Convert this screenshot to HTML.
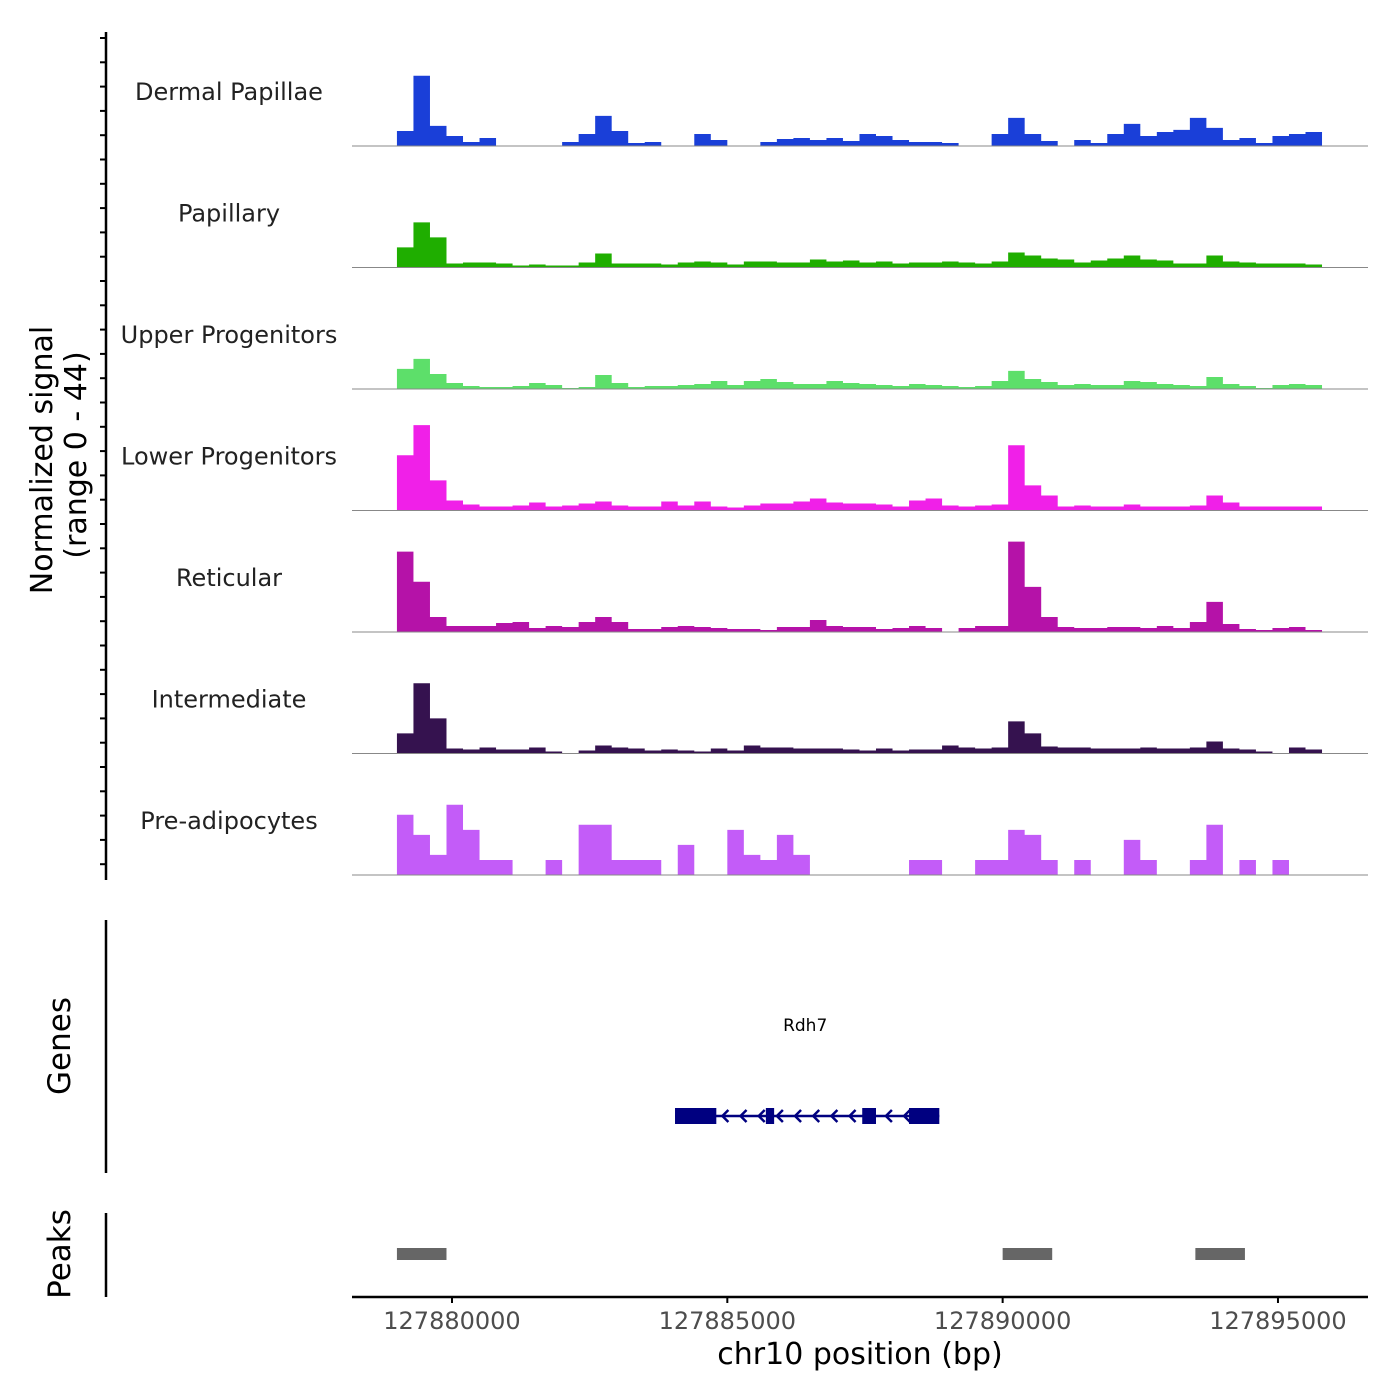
<!DOCTYPE html>
<html><head><meta charset="utf-8"><style>
html,body{margin:0;padding:0;background:#fff;}
svg{display:block;font-family:"DejaVu Sans","Liberation Sans",sans-serif;}
</style></head><body>
<svg id="chart" width="1400" height="1400" viewBox="0 0 1400 1400" xmlns="http://www.w3.org/2000/svg">
<g id="axes"></g>
<g id="tracks"></g>
<g id="genes"></g>
<g id="peaks"></g>
</svg>
<script>
// ---- data ----
const binStart = 127879000;
const binSize = 300;
const trackNames = ["Dermal Papillae","Papillary","Upper Progenitors","Lower Progenitors","Reticular","Intermediate","Pre-adipocytes"];
const trackColors = ["#1a3fd8","#1fae00","#5ddf6a","#f020e8","#b512a8","#35124f","#c35cf8"];
const dermalPapillae = [15,70,20,10,4,8,0,0,0,0,4,12,30,15,3,4,0,0,12,6,0,0,4,7,8,6,8,5,12,10,6,4,4,3,0,0,12,28,12,5,0,6,3,12,22,10,14,16,28,18,6,8,3,10,12,14];
const papillary = [20,45,30,4,5,5,4,2,3,2,2,5,14,4,4,4,3,5,6,5,3,6,6,5,5,8,6,7,5,6,4,5,5,6,5,4,6,15,12,9,8,5,7,9,12,8,7,4,4,12,6,5,4,4,4,3];
const upperProgenitors = [20,30,15,6,3,2,2,3,6,4,1,2,14,6,2,3,3,4,5,8,4,8,10,7,5,5,8,6,5,4,3,5,4,3,2,3,8,18,10,7,4,5,4,4,8,7,5,4,3,12,5,3,1,4,5,4];
const lowerProgenitors = [55,85,30,10,6,4,4,5,8,4,5,7,9,5,4,4,9,5,9,4,3,5,7,7,9,12,8,7,7,6,4,10,12,5,4,5,6,65,25,15,4,5,4,4,6,4,4,4,5,15,8,4,4,4,4,4];
const reticular = [80,50,15,6,6,6,9,10,4,6,5,10,15,10,3,3,5,6,5,4,3,3,2,5,5,12,6,5,5,3,4,6,4,0,4,6,6,90,45,15,5,4,4,5,5,4,6,4,10,30,8,3,2,4,5,2];
const intermediate = [20,70,35,5,4,6,4,4,6,2,0,3,8,6,5,3,4,3,2,5,3,8,6,6,5,5,5,4,3,5,3,4,4,8,6,5,6,32,20,7,6,6,5,5,5,6,5,5,6,12,5,4,2,0,6,4];
const preAdipocytes = [60,40,20,70,45,15,15,0,0,15,0,50,50,15,15,15,0,30,0,0,45,20,15,40,20,0,0,0,0,0,0,15,15,0,0,15,15,45,40,15,0,15,0,0,35,15,0,0,15,50,0,15,0,15,0,0];
const trackValues = [dermalPapillae,papillary,upperProgenitors,lowerProgenitors,reticular,intermediate,preAdipocytes];
const xTicks = [127880000,127885000,127890000,127895000];
const geneName = "Rdh7";
const geneStart = 127884050, geneEnd = 127888850;
const exonStarts = [127884050,127885700,127887450,127888300];
const exonEnds   = [127884800,127885850,127887700,127888850];
const peakStarts = [127879000,127890000,127893500];
const peakEnds   = [127879900,127890900,127894400];

// ---- scales ----
const NS="http://www.w3.org/2000/svg";
const X0=352,X1=1368, D0=127878184, D1=127896635;
const x = v => X0 + (v-D0)/(D1-D0)*(X1-X0);
const trackH = 121.5, firstBase = 146;
const sMax = 121;
const y = (t,v) => firstBase + t*trackH - v/sMax*trackH;
function mk(tag, attrs, parent){const e=document.createElementNS(NS,tag);for(const k in attrs)e.setAttribute(k,attrs[k]);parent.appendChild(e);return e;}

const axes=document.getElementById('axes'), tracks=document.getElementById('tracks');
let l=mk('line',{x1:106,y1:32,x2:106,y2:880,stroke:'#000','stroke-width':2.5},axes);


for(let ty=38; ty<=880; ty+=trackH/5){
  let tk=mk('line',{x1:100,y1:ty,x2:106,y2:ty,stroke:'#000','stroke-width':2},axes);
  
  
}
let yt=mk('text',{transform:'translate(52,460) rotate(-90)','text-anchor':'middle','font-size':30,fill:'#000'},axes);
yt.textContent='Normalized signal';


let yt2=mk('text',{transform:'translate(86,455) rotate(-90)','text-anchor':'middle','font-size':30,fill:'#000'},axes);
yt2.textContent='(range 0 - 44)';



trackValues.forEach((vals,t)=>{
  const base=firstBase+t*trackH;
  let d=`M${x(binStart)},${base}`;
  vals.forEach((v,i)=>{
    const a=x(binStart+i*binSize), b=x(binStart+(i+1)*binSize);
    d+=` L${a},${y(t,v)} L${b},${y(t,v)}`;
  });
  d+=` L${x(binStart+vals.length*binSize)},${base} Z`;
  let p=mk('path',{d:d,fill:trackColors[t]},tracks);
  
  
  let bl=mk('line',{x1:X0,y1:base,x2:X1,y2:base,stroke:'#888','stroke-width':1},tracks);
  
  
  let lb=mk('text',{x:229,y:base-46,'text-anchor':'middle','font-size':24,fill:'#222'},tracks);
  lb.textContent=trackNames[t];
  
  
});

const genes=document.getElementById('genes');
let ga=mk('line',{x1:106,y1:920,x2:106,y2:1173,stroke:'#000','stroke-width':2.5},genes);


let gt=mk('text',{transform:'translate(70,1046) rotate(-90)','text-anchor':'middle','font-size':31,fill:'#000'},genes);
gt.textContent='Genes';


let gn=mk('text',{x:x((geneStart+geneEnd)/2)-2,y:1031,'text-anchor':'middle','font-size':17,fill:'#000'},genes);
gn.textContent=geneName;


let gl=mk('line',{x1:x(geneStart),y1:1116,x2:x(geneEnd),y2:1116,stroke:'#000080','stroke-width':2.5},genes);


exonStarts.forEach((s,i)=>{
  let r=mk('rect',{x:x(s),y:1108,width:x(exonEnds[i])-x(s),height:16,fill:'#000080'},genes);
  
  
});
for(let p=geneStart+200;p<geneEnd-150;p+=330){
  const ax=x(p);
  let a=mk('path',{d:`M${ax+6},${1110} L${ax},${1116} L${ax+6},${1122}`,fill:'none',stroke:'#000080','stroke-width':2.5},genes);
  
  
}

const peaks=document.getElementById('peaks');
let pa=mk('line',{x1:106,y1:1213,x2:106,y2:1297,stroke:'#000','stroke-width':2.5},peaks);


let pt=mk('text',{transform:'translate(70,1254) rotate(-90)','text-anchor':'middle','font-size':31,fill:'#000'},peaks);
pt.textContent='Peaks';


peakStarts.forEach((s,i)=>{
  let r=mk('rect',{x:x(s),y:1248,width:x(peakEnds[i])-x(s),height:12,fill:'#666'},peaks);
  
  
});

let xa=mk('line',{x1:X0,y1:1297,x2:X1,y2:1297,stroke:'#000','stroke-width':2.5},axes);


xTicks.forEach(v=>{
  let tk=mk('line',{x1:x(v),y1:1297,x2:x(v),y2:1303,stroke:'#000','stroke-width':2},axes);
  
  
  let tl=mk('text',{x:x(v),y:1329,'text-anchor':'middle','font-size':24,fill:'#4d4d4d'},axes);
  tl.textContent=String(v);
  
  
});
let xt=mk('text',{x:860,y:1364,'text-anchor':'middle','font-size':30,fill:'#000'},axes);
xt.textContent='chr10 position (bp)';


</script>
</body></html>
